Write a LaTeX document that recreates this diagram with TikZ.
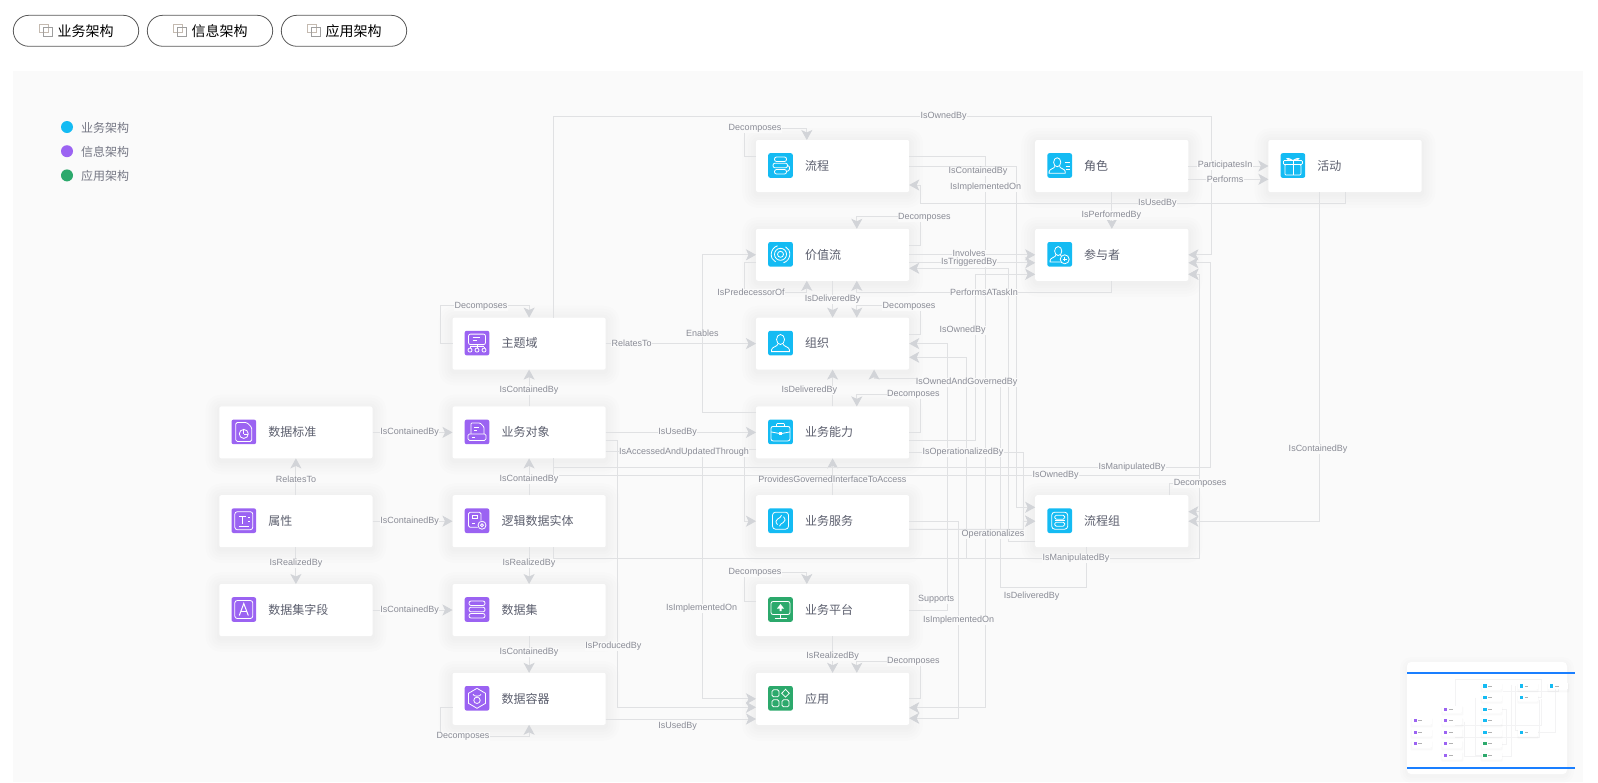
\documentclass[tikz,border=0pt]{standalone}
\usepackage{fontspec}
\setmainfont{Liberation Sans}
\newfontfamily\cjk{Noto Sans CJK SC}
\usetikzlibrary{positioning,arrows.meta}

\definecolor{bizblue}{HTML}{14BBF3}
\definecolor{infopurple}{HTML}{9B63F2}
\definecolor{appgreen}{HTML}{2CA96C}
\definecolor{panelbg}{HTML}{FAFAFA}
\definecolor{wire}{HTML}{E0E1E3}
\definecolor{tipgray}{HTML}{D2D4D8}
\definecolor{lblgray}{HTML}{8A8C96}
\definecolor{boxtext}{HTML}{5C5F6E}
\definecolor{barblue}{HTML}{1A7FFF}

\tikzset{
  softring/.style={preaction={draw=black, draw opacity=.006, line width=#1, line join=round,
    transform canvas={yshift=-2pt}}},
  card/.style={fill=white, rounded corners=2pt, minimum width=153.2pt, minimum height=52pt,
    outer sep=0pt, inner xsep=0pt, text width=153.2pt, align=left, text=boxtext,
    font=\cjk\fontsize{12}{14}\selectfont,
    softring=28pt, softring=22pt, softring=16pt, softring=10pt, softring=5pt},
  icosq/.style={rounded corners=2pt, minimum size=24.6pt, inner sep=0pt, outer sep=0pt},
  ico/.style={white, line width=.8pt},
  rel/.style={wire, line width=.9pt, -{Stealth[length=10pt, width=11pt, inset=2.5pt, color=tipgray]}},
  lbl/.style={fill=panelbg, inner sep=.4pt, text=lblgray, font=\fontsize{9}{10}\selectfont},
  tabbtn/.style={draw=black!65, fill=white, line width=.8pt, rounded corners=15.5pt,
    minimum width=125.4pt, minimum height=31pt, outer sep=0pt, font=\cjk\fontsize{14}{16}\selectfont},
  tabsq/.style={line width=1pt},
  legdot/.style={circle, minimum size=12pt, inner sep=0pt, outer sep=0pt},
  legtxt/.style={inner sep=0pt, text=boxtext!85, font=\cjk\fontsize{12}{14}\selectfont},
  node distance=36.8pt,
}

\newcommand{\cardtext}[1]{\hspace*{49pt}\raisebox{1.6pt}{#1}}
\newcommand{\cardicon}[3]{%
  \node[icosq, fill=#2, right=12.2pt of #1.west, yshift=.5pt] (#1ic) {};
  \begin{scope}[shift={(#1ic.center)}, ico] #3 \end{scope}}
\newcommand{\tabicon}[1]{%
  \draw[tabsq, color=brown!45!black!35] ([xshift=26.5pt, yshift=6.8pt]#1.west) rectangle ++(8.5,8.5);
  \draw[tabsq, color=black!38] ([xshift=30.5pt, yshift=-5.8pt]#1.west) rectangle ++(8.8,-8.8);}
\newcommand{\person}{%
  \draw (0,-3.6) ellipse (4 and 5);
  \draw (-2.6,1) .. controls (-3,3.6) and (-9,3.6) .. (-9,7) -- (-9,8.5) -- (9,8.5) -- (9,7) .. controls (9,3.6) and (3,3.6) .. (2.6,1);}

\begin{document}
\begin{tikzpicture}[x=1pt, y=-1pt]
  \useasboundingbox (0,0) rectangle (1598,782);
  \fill[panelbg] (13,71) rectangle (1582.5,782);

  % tabs
  \node[tabbtn] (tabbiz) at (76,30.8) {\hspace{19pt}业务架构};
  \node[tabbtn, right=8.6pt of tabbiz] (tabinfo) {\hspace{19pt}信息架构};
  \node[tabbtn, right=8.6pt of tabinfo] (tabapp) {\hspace{19pt}应用架构};
  \tabicon{tabbiz}
  \tabicon{tabinfo}
  \tabicon{tabapp}

  % legend
  \node[legdot, fill=bizblue] (dotbiz) at (67,127) {};
  \node[legdot, fill=infopurple, below=12.2pt of dotbiz] (dotinfo) {};
  \node[legdot, fill=appgreen, below=12.2pt of dotinfo] (dotapp) {};
  \node[legtxt, right=8pt of dotbiz, yshift=-.8pt] (legbiz) {业务架构};
  \node[legtxt, right=8pt of dotinfo, yshift=-.8pt] (leginfo) {信息架构};
  \node[legtxt, right=8pt of dotapp, yshift=-.8pt] (legapp) {应用架构};

  % cards
  \node[card] (flow) at (832.6,166) {\cardtext{流程}};
  \node[card, below=of flow] (vstream) {\cardtext{价值流}};
  \node[card, below=of vstream] (org) {\cardtext{组织}};
  \node[card, below=of org] (cap) {\cardtext{业务能力}};
  \node[card, below=of cap] (service) {\cardtext{业务服务}};
  \node[card, below=of service] (platform) {\cardtext{业务平台}};
  \node[card, below=of platform] (app) {\cardtext{应用}};
  \node[card, right=126pt of flow] (role) {\cardtext{角色}};
  \node[card, below=of role] (actor) {\cardtext{参与者}};
  \node[card, right=80pt of role] (activity) {\cardtext{活动}};
  \node[card, right=126pt of service] (flowgroup) {\cardtext{流程组}};
  \node[card, left=150.3pt of org] (domain) {\cardtext{主题域}};
  \node[card, below=of domain] (bizobj) {\cardtext{业务对象}};
  \node[card, below=of bizobj] (entity) {\cardtext{逻辑数据实体}};
  \node[card, below=of entity] (dataset) {\cardtext{数据集}};
  \node[card, below=of dataset] (container) {\cardtext{数据容器}};
  \node[card, left=80pt of bizobj] (standard) {\cardtext{数据标准}};
  \node[card, below=of standard] (attr) {\cardtext{属性}};
  \node[card, below=of attr] (field) {\cardtext{数据集字段}};

  % icons
  \cardicon{flow}{bizblue}{
    \draw[rounded corners=2pt] (-6,-8.5) rectangle (6,-4);
    \draw[rounded corners=2pt] (-7.5,-2.3) rectangle (7,2.3);
    \draw[rounded corners=2pt] (-6,4) rectangle (6,8.5);
    \draw (7,0) .. controls (10,0) and (10,6) .. (6,6);}
  \cardicon{vstream}{bizblue}{
    \draw (0,0) circle (3);
    \draw (0,0) circle (6);
    \draw (-3,-8.5) .. controls (-11,-6) and (-11,5) .. (-5,7.5);
    \draw (3,8.5) .. controls (11,6) and (11,-5) .. (5,-7.5);}
  \cardicon{org}{bizblue}{\person}
  \cardicon{cap}{bizblue}{
    \draw[rounded corners=2pt] (-9.5,-5.5) rectangle (9.5,9);
    \draw[rounded corners=1pt] (-4,-5.5) -- (-4,-8.5) -- (4,-8.5) -- (4,-5.5);
    \draw (-9.5,0) -- (-1.5,1.5);
    \draw (9.5,0) -- (1.5,1.5);
    \fill[white] (-1.5,0) rectangle (1.5,3);}
  \cardicon{service}{bizblue}{
    \draw[rounded corners=3pt] (-8,-8.5) rectangle (8,8.5);
    \draw (-3,4) .. controls (-8,-2) and (1,-2) .. (1,-5.5);
    \draw (3,-4) .. controls (8,2) and (-1,2) .. (-1,5.5);}
  \cardicon{platform}{appgreen}{
    \draw[rounded corners=2pt] (-9.5,-8) rectangle (9.5,5);
    \draw (-6,8.5) -- (6,8.5);
    \draw (0,5) -- (0,8.5);
    \fill[white] (0,-5.5) -- (3.5,-1) -- (1,-1) -- (1,1.5) -- (-1,1.5) -- (-1,-1) -- (-3.5,-1) -- cycle;}
  \cardicon{app}{appgreen}{
    \draw[rounded corners=1.5pt] (-8.5,-8.5) rectangle (-1.5,-1.5);
    \draw (5,-9) -- (8.8,-5) -- (5,-1.2) -- (1.2,-5) -- cycle;
    \draw[rounded corners=1.5pt] (-8.5,1.5) rectangle (-1.5,8.5);
    \draw[rounded corners=1.5pt] (1.5,1.5) rectangle (8.5,8.5);}
  \cardicon{role}{bizblue}{
    \begin{scope}[shift={(-2.5,0)}, scale=.9]\person\end{scope}
    \draw (5,-3) -- (10,-3);
    \draw (6,0.5) -- (10,0.5);
    \draw (6,4) -- (10,4);}
  \cardicon{actor}{bizblue}{
    \begin{scope}[shift={(-1.5,0)}, scale=.9]\person\end{scope}
    \fill[bizblue] (5,5) circle (5);
    \draw (5,5) circle (4.5);
    \draw (5,3) -- (5,7);
    \draw (3,5) -- (7,5);}
  \cardicon{activity}{bizblue}{
    \draw[rounded corners=1pt] (-9.5,-5) rectangle (9.5,-1);
    \draw[rounded corners=1pt] (-8,-1) rectangle (8,9.5);
    \draw (0,-5) -- (0,9.5);
    \draw (0,-5) .. controls (-8,-10) and (-8,-5) .. (0,-5);
    \draw (0,-5) .. controls (8,-10) and (8,-5) .. (0,-5);}
  \cardicon{flowgroup}{bizblue}{
    \draw[rounded corners=3pt] (-8,-8.5) rectangle (8,8.5);
    \draw[rounded corners=1.5pt] (-5,-5.5) rectangle (5,-1.5);
    \draw[rounded corners=1.5pt] (-5,1.5) rectangle (5,5.5);
    \draw (-5,0) -- (5,0);}
  \cardicon{domain}{infopurple}{
    \draw[rounded corners=2pt] (-8.5,-9) rectangle (8.5,1.5);
    \draw (-4.5,-5.5) -- (3,-5.5);
    \draw (-4.5,-2.5) -- (0,-2.5);
    \draw (0,1.5) -- (0,5);
    \draw (-7,3.5) -- (7,3.5);
    \draw (-7,3.5) -- (-7,5);
    \draw (7,3.5) -- (7,5);
    \draw (-7,7) circle (2);
    \draw (0,7) circle (2);
    \draw (7,7) circle (2);}
  \cardicon{bizobj}{infopurple}{
    \draw[rounded corners=1pt] (-6,2) -- (-6,-9) -- (3,-9) -- (7,-5) -- (7,2);
    \draw (-3,-4.5) -- (2,-4.5);
    \draw (-3,-1.5) -- (0,-1.5);
    \draw[rounded corners=1.5pt] (-9,2) rectangle (9,8.5);
    \draw (-5,5.3) -- (-2,5.3);}
  \cardicon{entity}{infopurple}{
    \draw[rounded corners=1.5pt] (-8.5,-8.5) rectangle (4,6.5);
    \draw (-5,-5) rectangle (0,-2);
    \draw (-5,3) -- (-2,3);
    \fill[infopurple] (5,4.5) circle (5);
    \draw (5,4.5) circle (4);
    \draw (5,4.5) circle (1.5);}
  \cardicon{dataset}{infopurple}{
    \draw[rounded corners=2pt] (-8,-8.5) rectangle (8,-4);
    \draw[rounded corners=2pt] (-8,-2.3) rectangle (8,2.3);
    \draw[rounded corners=2pt] (-8,4) rectangle (8,8.5);}
  \cardicon{container}{infopurple}{
    \draw (0,-10) -- (8.5,-5) -- (8.5,5) -- (0,10) -- (-8.5,5) -- (-8.5,-5) -- cycle;
    \draw (0,2) circle (3.2);
    \draw (-4,-4) .. controls (-3.5,-1.5) and (3.5,-1.5) .. (4,-4);}
  \cardicon{standard}{infopurple}{
    \draw[rounded corners=1.5pt] (-8,-9.5) -- (3,-9.5) -- (8,-4.5) -- (8,9.5) -- (-8,9.5) -- cycle;
    \draw (0,2) circle (4.5);
    \draw (0,2) -- (0,-2.5);
    \draw (0,2) -- (4.5,2);}
  \cardicon{attr}{infopurple}{
    \draw[rounded corners=2.5pt] (-9,-9) rectangle (9,9);
    \draw (-5,-4) -- (2,-4);
    \draw (-1.5,-4) -- (-1.5,3);
    \draw (4,-3) -- (6.5,-3);
    \draw (4,0.5) -- (6.5,0.5);
    \draw (-5,6) -- (5,6);}
  \cardicon{field}{infopurple}{
    \draw[rounded corners=2.5pt] (-9,-9) rectangle (9,9);
    \draw[line width=1pt] (-4.5,6) -- (0,-6) -- (4.5,6);
    \draw (-3,2) -- (3,2);}

  % connectors
  \draw[rel] ([xshift=24.3pt]domain.north) |- (1211,116) |- (actor.east);
  \draw[rel] (domain.west) -| (440.3,305.7) -| (domain.north);
  \draw[rel] ([yshift=9.3pt]flow.west) -| (744.3,128.3) -| ([xshift=-25.8pt]flow.north);
  \draw[rel] ([yshift=9.3pt]flow.east) -| (985.7,400) |- ([yshift=-8.9pt]app.east);
  \draw[rel] (flow.east) -| (1016.7,300) |- ([yshift=13.9pt]flowgroup.west);
  \draw[rel] (activity.south) |- (920.7,203.3) |- ([yshift=-19pt]flow.east);
  \draw[rel] ([xshift=-26pt]activity.south) |- (flowgroup.east);
  \draw[rel] (role.east) -- (activity.west);
  \draw[rel] ([yshift=-13.3pt]role.east) -- ([yshift=-13.3pt]activity.west);
  \draw[rel] (role.south) -- (actor.north);
  \draw[rel] ([yshift=9.5pt]vstream.east) -| (920.7,216.7) -| ([xshift=24.2pt]vstream.north);
  \draw[rel] (vstream.east) -- (actor.west);
  \draw[rel] ([yshift=-8pt]vstream.east) -- ([yshift=-8pt]actor.west);
  \draw[rel] ([yshift=-19.8pt]flowgroup.west) -| (1008.3,400) |- ([yshift=-13.5pt]vstream.east);
  \draw[rel] ([yshift=-8pt]cap.east) -| (975,350) |- ([yshift=-19.5pt]actor.west);
  \draw[rel] (actor.south) |- (856.8,292.3) -- ([xshift=24.2pt]vstream.south);
  \draw[rel] ([yshift=-8pt]vstream.west) -| (744.3,292.3) -| ([xshift=-25.8pt]vstream.south);
  \draw[rel] (vstream.south) -- (org.north);
  \draw[rel] ([yshift=9.3pt]org.east) -| (920.7,305.7) -| ([xshift=24.2pt]org.north);
  \draw[rel] ([yshift=20.4pt]cap.west) -| (702.3,330) |- (vstream.west);
  \draw[rel] (domain.east) -- (org.west);
  \draw[rel] (bizobj.east) -- (cap.west);
  \draw[rel] ([yshift=-8pt]bizobj.east) -| (617.3,600) |- ([yshift=-8.5pt]app.west);
  \draw[rel] ([yshift=-19.3pt]bizobj.east) -| (744.3,490) |- (service.west);
  \draw[rel] ([yshift=-16.6pt]cap.west) -| (702.3,600) |- (app.west);
  \draw[rel] ([yshift=-20.2pt]container.east) -- ([yshift=-20.2pt]app.west);
  \draw[rel] (cap.north) -- (org.south);
  \draw[rel] (cap.east) -| (920.7,394.7) -| ([xshift=24.2pt]cap.north);
  \draw[rel] (service.north) -- (cap.south);
  \draw[rel] ([yshift=-19.6pt]cap.east) -| (1023.3,480) |- (flowgroup.west);
  \draw[rel] ([yshift=-8.1pt]service.east) -| (1023.3,521.2) -- (flowgroup.west);
  \draw[rel] (service.east) -| (958.7,600) |- ([yshift=-19.5pt]app.east);
  \draw[rel] (platform.east) -| (947.3,500) |- (org.east);
  \draw[rel] ([xshift=24.3pt]entity.south) |- (966.7,558.7) |- ([yshift=-13.7pt]org.east);
  \draw[rel] ([xshift=24.3pt]entity.south) |- (1199.2,558.7) |- ([yshift=-19.5pt]actor.east);
  \draw[rel] ([xshift=24.3pt]bizobj.south) |- (1210.7,467.3) |- ([yshift=-8pt]actor.east);
  \draw[rel] ([xshift=24.3pt]bizobj.south) |- (1199.2,475.3) |- ([yshift=-19.5pt]actor.east);
  \draw[rel] ([xshift=58pt]flowgroup.north) |- (1199.2,483.3) |- ([yshift=9.5pt]flowgroup.east);
  \draw[rel] ([xshift=-25.6pt]flowgroup.south) |- (1000.7,587) |- (874.1,378.7) -- ([xshift=41.5pt]org.south);
  \draw[rel] ([yshift=8.7pt]platform.west) -| (744.3,572.3) -| ([xshift=-25.8pt]platform.north);
  \draw[rel] (platform.south) -- (app.north);
  \draw[rel] (app.east) -| (920.7,661) -| ([xshift=24.2pt]app.north);
  \draw[rel] (standard.east) -- (bizobj.west);
  \draw[rel] (attr.east) -- (entity.west);
  \draw[rel] (field.east) -- (dataset.west);
  \draw[rel] (attr.north) -- (standard.south);
  \draw[rel] (attr.south) -- (field.north);
  \draw[rel] (bizobj.north) -- (domain.south);
  \draw[rel] (entity.north) -- (bizobj.south);
  \draw[rel] (entity.south) -- (dataset.north);
  \draw[rel] (dataset.south) -- (container.north);
  \draw[rel] ([yshift=-8.5pt]container.west) -| (440.3,736.7) -| (container.south);

  % connector labels
  \node[lbl] (ownflow) at (943.7,116.5) {IsOwnedBy};
  \node[lbl] (decflow) at (755,128.8) {Decomposes};
  \node[lbl] (containflow) at (978,171.2) {IsContainedBy};
  \node[lbl] (implflow) at (985.7,187.2) {IsImplementedOn};
  \node[lbl] (partin) at (1225,165.2) {ParticipatesIn};
  \node[lbl] (performs) at (1225,179.2) {Performs};
  \node[lbl] (usedact) at (1157.3,203.2) {IsUsedBy};
  \node[lbl] (performby) at (1111.3,215.2) {IsPerformedBy};
  \node[lbl] (decvs) at (924.3,217.2) {Decomposes};
  \node[lbl] (involves) at (969,253.5) {Involves};
  \node[lbl] (trigger) at (969,262.5) {IsTriggeredBy};
  \node[lbl] (predec) at (751,292.2) {IsPredecessorOf};
  \node[lbl] (delivvs) at (832.7,299.5) {IsDeliveredBy};
  \node[lbl] (task) at (984,292.2) {PerformsATaskIn};
  \node[lbl] (decorg) at (909,306.2) {Decomposes};
  \node[lbl] (decdom) at (481,306.2) {Decomposes};
  \node[lbl] (ownorg) at (962.7,330.2) {IsOwnedBy};
  \node[lbl] (enables) at (702.3,333.2) {Enables};
  \node[lbl] (relorg) at (631.7,343.5) {RelatesTo};
  \node[lbl] (govern) at (966.7,382.2) {IsOwnedAndGovernedBy};
  \node[lbl] (containdom) at (529,390.2) {IsContainedBy};
  \node[lbl] (delivcap) at (809.3,390.5) {IsDeliveredBy};
  \node[lbl] (deccap) at (913.3,394.5) {Decomposes};
  \node[lbl] (containobj) at (409.7,432.5) {IsContainedBy};
  \node[lbl] (usedcap) at (677.7,432.5) {IsUsedBy};
  \node[lbl] (access) at (684,452.2) {IsAccessedAndUpdatedThrough};
  \node[lbl] (operby) at (963,452.5) {IsOperationalizedBy};
  \node[lbl] (containgrp) at (1318,449) {IsContainedBy};
  \node[lbl] (manipobj) at (1132,467.2) {IsManipulatedBy};
  \node[lbl] (ownobj) at (1055.7,475.5) {IsOwnedBy};
  \node[lbl] (relstd) at (296,479.2) {RelatesTo};
  \node[lbl] (containent) at (529,479.2) {IsContainedBy};
  \node[lbl] (provides) at (832.3,479.2) {ProvidesGovernedInterfaceToAccess};
  \node[lbl] (decgrp) at (1200,483.8) {Decomposes};
  \node[lbl] (containattr) at (409.7,521.2) {IsContainedBy};
  \node[lbl] (operates) at (993,534.2) {Operationalizes};
  \node[lbl] (manipent) at (1076,558.2) {IsManipulatedBy};
  \node[lbl] (realfield) at (296,563.2) {IsRealizedBy};
  \node[lbl] (realset) at (529,563.2) {IsRealizedBy};
  \node[lbl] (decplat) at (755,572.8) {Decomposes};
  \node[lbl] (supports) at (936,599.5) {Supports};
  \node[lbl] (delivgrp) at (1031.7,596.2) {IsDeliveredBy};
  \node[lbl] (containfield) at (409.7,610.2) {IsContainedBy};
  \node[lbl] (implcap) at (701.7,608.2) {IsImplementedOn};
  \node[lbl] (implsrv) at (958.7,620.2) {IsImplementedOn};
  \node[lbl] (prodby) at (613.3,646.2) {IsProducedBy};
  \node[lbl] (containset) at (529,652.2) {IsContainedBy};
  \node[lbl] (realapp) at (832.7,656.2) {IsRealizedBy};
  \node[lbl] (decapp) at (913.3,661.5) {Decomposes};
  \node[lbl] (usedapp) at (677.7,726.5) {IsUsedBy};
  \node[lbl] (deccont) at (463,736.5) {Decomposes};

  % overview
  \fill[white, rounded corners=4pt, softring=14pt, softring=9pt, softring=4pt] (1407,662) rectangle (1567,774);
  \begin{scope}[shift={(1383.5,664.4)}, x=.13pt, y=-.13pt]
    \draw[wire!40, line width=.3pt] (553,343) |- (1211,116) |- (1188,255);
    \draw[wire!40, line width=.3pt] (702,255) -- (702,699) -- (756,699);
    \draw[wire!40, line width=.3pt] (617,440) -- (617,707) -- (756,707);
    \draw[wire!40, line width=.3pt] (985,157) -- (985,708) -- (909,708);
    \draw[wire!40, line width=.3pt] (1016,166) -- (1016,507) -- (1035,507);
    \draw[wire!40, line width=.3pt] (1199,274) -- (1199,558) -- (553,558);
    \draw[wire!40, line width=.3pt] (553,467) -- (1211,467) -- (1211,263);
    \draw[wire!40, line width=.3pt] (1318,192) -- (1318,521) -- (1188,521);
    \draw[wire!40, line width=.3pt] (1344,192) |- (921,203);
    \draw[wire!40, line width=.3pt] (909,343) -- (947,343) -- (947,610) -- (909,610);
    \foreach \mx/\my/\mc in {756/166/bizblue, 756/254.8/bizblue, 756/343.6/bizblue, 756/432.4/bizblue,
      756/521.2/bizblue, 756/610/appgreen, 756/698.8/appgreen, 1035/166/bizblue, 1035/254.8/bizblue,
      1268/166/bizblue, 1035/521.2/bizblue, 452.5/343.6/infopurple, 452.5/432.4/infopurple,
      452.5/521.2/infopurple, 452.5/610/infopurple, 452.5/698.8/infopurple, 219/432.4/infopurple,
      219/521.2/infopurple, 219/610/infopurple} {
      \fill[white, softring=3pt, softring=2pt, softring=1pt] (\mx,\my-26) rectangle ++(153,52);
      \fill[\mc] (\mx+12,\my-12) rectangle ++(25,25);
      \draw[black!30, line width=.7pt] (\mx+50,\my) -- ++(30,0);
    }
  \end{scope}
  \fill[barblue] (1407,672) rectangle (1575,674);
  \fill[barblue] (1407,767) rectangle (1575,769);
\end{tikzpicture}
\end{document}
